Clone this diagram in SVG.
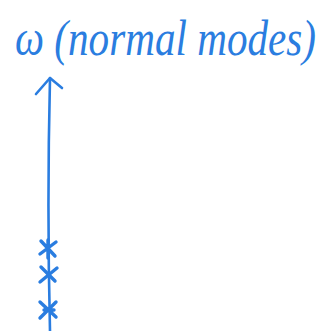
<svg xmlns="http://www.w3.org/2000/svg" width="324" height="331" viewBox="0 0 324 331">
<style>
.ink{fill:none;stroke:#2a7de0;stroke-width:2.6;stroke-linecap:round;stroke-linejoin:round}
.mark{fill:none;stroke:#2a7de0;stroke-width:3.4;stroke-linecap:round;stroke-linejoin:round}
.lbl{font-family:"Liberation Serif",serif;font-style:italic;font-size:42px;fill:#2a7de0}
</style>
<rect width="324" height="331" fill="#ffffff"/>
<g id="label">
<text class="lbl" x="15" y="55" transform="translate(0,-11) scale(1,1.2)" textLength="301" lengthAdjust="spacingAndGlyphs">ω (normal modes)</text>
</g>
<g id="connectors">
<path class="ink" d="M50,331 C48,250 48,160 50,78"/>
<path class="ink" d="M36,94 L50,78 L62,88"/>
</g>
<g id="marks">
<path class="mark" d="M41,241 L55,256 M40,254 L56,242 M48,240 L48,258"/>
<path class="mark" d="M41,267 L55,281 M40,282 L57,268"/>
<path class="mark" d="M40,302 L56,317 M40,318 L56,302 M44,310 L54,310"/>
</g>
</svg>
